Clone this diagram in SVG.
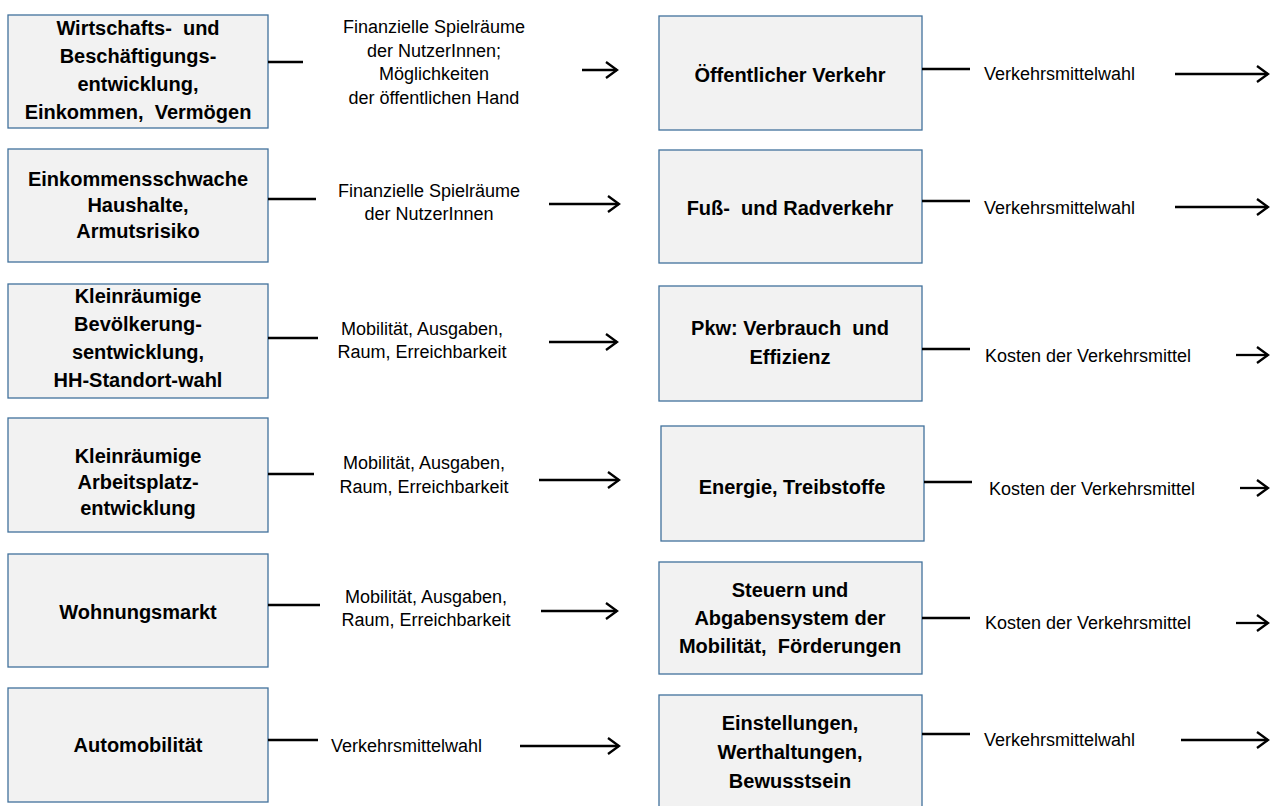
<svg xmlns="http://www.w3.org/2000/svg" width="1275" height="806" viewBox="0 0 1275 806">
<defs>
<style>
.box{fill:#f2f2f2;stroke:#41719c;stroke-width:1.3}
.bt{font-family:"Liberation Sans",Arial,sans-serif;font-weight:bold;font-size:20px;fill:#000;text-anchor:middle;white-space:pre}
.lt{font-family:"Liberation Sans",Arial,sans-serif;font-size:18px;fill:#000;text-anchor:middle}
.ls{font-family:"Liberation Sans",Arial,sans-serif;font-size:18px;fill:#000;text-anchor:start}
.ln{stroke:#000;stroke-width:2.3;fill:none}
</style>
<marker id="ah" markerWidth="14" markerHeight="20" refX="12" refY="9" orient="auto" markerUnits="userSpaceOnUse">
<path d="M1,1 L12,9 L1,17" fill="none" stroke="#000" stroke-width="2.3"/>
</marker>
</defs>
<rect width="1275" height="806" fill="#fff"/>
<g id="n1"><rect class="box" x="8" y="15" width="260" height="113"/>
<text class="bt" x="138" y="35" xml:space="preserve">Wirtschafts-  und</text><text class="bt" x="138" y="63">Beschäftigungs-</text><text class="bt" x="138" y="91">entwicklung,</text><text class="bt" x="138" y="119" xml:space="preserve">Einkommen,  Vermögen</text></g>
<g id="n2"><rect class="box" x="8" y="149" width="260" height="113"/>
<text class="bt" x="138" y="186">Einkommensschwache</text><text class="bt" x="138" y="212">Haushalte,</text><text class="bt" x="138" y="238">Armutsrisiko</text></g>
<g id="n3"><rect class="box" x="8" y="284" width="260" height="114"/>
<text class="bt" x="138" y="303">Kleinräumige</text><text class="bt" x="138" y="331">Bevölkerung-</text><text class="bt" x="138" y="359">sentwicklung,</text><text class="bt" x="138" y="387">HH-Standort-wahl</text></g>
<g id="n4"><rect class="box" x="8" y="418" width="260" height="114"/>
<text class="bt" x="138" y="463">Kleinräumige</text><text class="bt" x="138" y="489">Arbeitsplatz-</text><text class="bt" x="138" y="515">entwicklung</text></g>
<g id="n5"><rect class="box" x="8" y="554" width="260" height="113"/>
<text class="bt" x="138" y="619">Wohnungsmarkt</text></g>
<g id="n6"><rect class="box" x="8" y="688" width="260" height="114"/>
<text class="bt" x="138" y="752">Automobilität</text></g>
<g id="r1"><rect class="box" x="659" y="16" width="263" height="114"/>
<text class="bt" x="790" y="82">Öffentlicher Verkehr</text></g>
<g id="r2"><rect class="box" x="659" y="150" width="263" height="113"/>
<text class="bt" x="790" y="215" xml:space="preserve">Fuß-  und Radverkehr</text></g>
<g id="r3"><rect class="box" x="659" y="286" width="263" height="115"/>
<text class="bt" x="790" y="335" xml:space="preserve">Pkw: Verbrauch  und</text><text class="bt" x="790" y="364">Effizienz</text></g>
<g id="r4"><rect class="box" x="661" y="426" width="263" height="115"/>
<text class="bt" x="792" y="494">Energie, Treibstoffe</text></g>
<g id="r5"><rect class="box" x="659" y="562" width="263" height="112"/>
<text class="bt" x="790" y="597">Steuern und</text><text class="bt" x="790" y="625">Abgabensystem der</text><text class="bt" x="790" y="653" xml:space="preserve">Mobilität,  Förderungen</text></g>
<g id="r6"><rect class="box" x="659" y="695" width="263" height="120"/>
<text class="bt" x="790" y="730">Einstellungen,</text><text class="bt" x="790" y="759">Werthaltungen,</text><text class="bt" x="790" y="788">Bewusstsein</text></g>
<g id="connectors">
<line class="ln" x1="268" y1="62" x2="303" y2="62"/>
<line class="ln" x1="582" y1="70" x2="617" y2="70" marker-end="url(#ah)"/>
<line class="ln" x1="268" y1="199" x2="316" y2="199"/>
<line class="ln" x1="549" y1="204" x2="619" y2="204" marker-end="url(#ah)"/>
<line class="ln" x1="268" y1="338" x2="318" y2="338"/>
<line class="ln" x1="549" y1="342" x2="617" y2="342" marker-end="url(#ah)"/>
<line class="ln" x1="268" y1="474" x2="314" y2="474"/>
<line class="ln" x1="539" y1="480" x2="619" y2="480" marker-end="url(#ah)"/>
<line class="ln" x1="268" y1="605" x2="320" y2="605"/>
<line class="ln" x1="541" y1="611" x2="617" y2="611" marker-end="url(#ah)"/>
<line class="ln" x1="268" y1="740" x2="318" y2="740"/>
<line class="ln" x1="520" y1="746" x2="619" y2="746" marker-end="url(#ah)"/>
<line class="ln" x1="922" y1="69" x2="970" y2="69"/>
<line class="ln" x1="1175" y1="74" x2="1268" y2="74" marker-end="url(#ah)"/>
<line class="ln" x1="922" y1="201" x2="970" y2="201"/>
<line class="ln" x1="1175" y1="207" x2="1268" y2="207" marker-end="url(#ah)"/>
<line class="ln" x1="922" y1="349" x2="970" y2="349"/>
<line class="ln" x1="1236" y1="355" x2="1268" y2="355" marker-end="url(#ah)"/>
<line class="ln" x1="924" y1="482" x2="972" y2="482"/>
<line class="ln" x1="1240" y1="488" x2="1268" y2="488" marker-end="url(#ah)"/>
<line class="ln" x1="922" y1="618" x2="970" y2="618"/>
<line class="ln" x1="1236" y1="623" x2="1268" y2="623" marker-end="url(#ah)"/>
<line class="ln" x1="922" y1="734" x2="970" y2="734"/>
<line class="ln" x1="1181" y1="740" x2="1268" y2="740" marker-end="url(#ah)"/>
</g>
<g id="labels">
<text class="lt" x="434" y="33">Finanzielle Spielräume</text>
<text class="lt" x="434" y="57">der NutzerInnen;</text>
<text class="lt" x="434" y="80">Möglichkeiten</text>
<text class="lt" x="434" y="104">der öffentlichen Hand</text>
<text class="lt" x="429" y="197">Finanzielle Spielräume</text>
<text class="lt" x="429" y="220">der NutzerInnen</text>
<text class="lt" x="422" y="335">Mobilität, Ausgaben,</text>
<text class="lt" x="422" y="358">Raum, Erreichbarkeit</text>
<text class="lt" x="424" y="469">Mobilität, Ausgaben,</text>
<text class="lt" x="424" y="493">Raum, Erreichbarkeit</text>
<text class="lt" x="426" y="603">Mobilität, Ausgaben,</text>
<text class="lt" x="426" y="626">Raum, Erreichbarkeit</text>
<text class="ls" x="331" y="752">Verkehrsmittelwahl</text>
<text class="ls" x="984" y="80">Verkehrsmittelwahl</text>
<text class="ls" x="984" y="214">Verkehrsmittelwahl</text>
<text class="ls" x="985" y="362">Kosten der Verkehrsmittel</text>
<text class="ls" x="989" y="495">Kosten der Verkehrsmittel</text>
<text class="ls" x="985" y="629">Kosten der Verkehrsmittel</text>
<text class="ls" x="984" y="746">Verkehrsmittelwahl</text>
</g>
</svg>
